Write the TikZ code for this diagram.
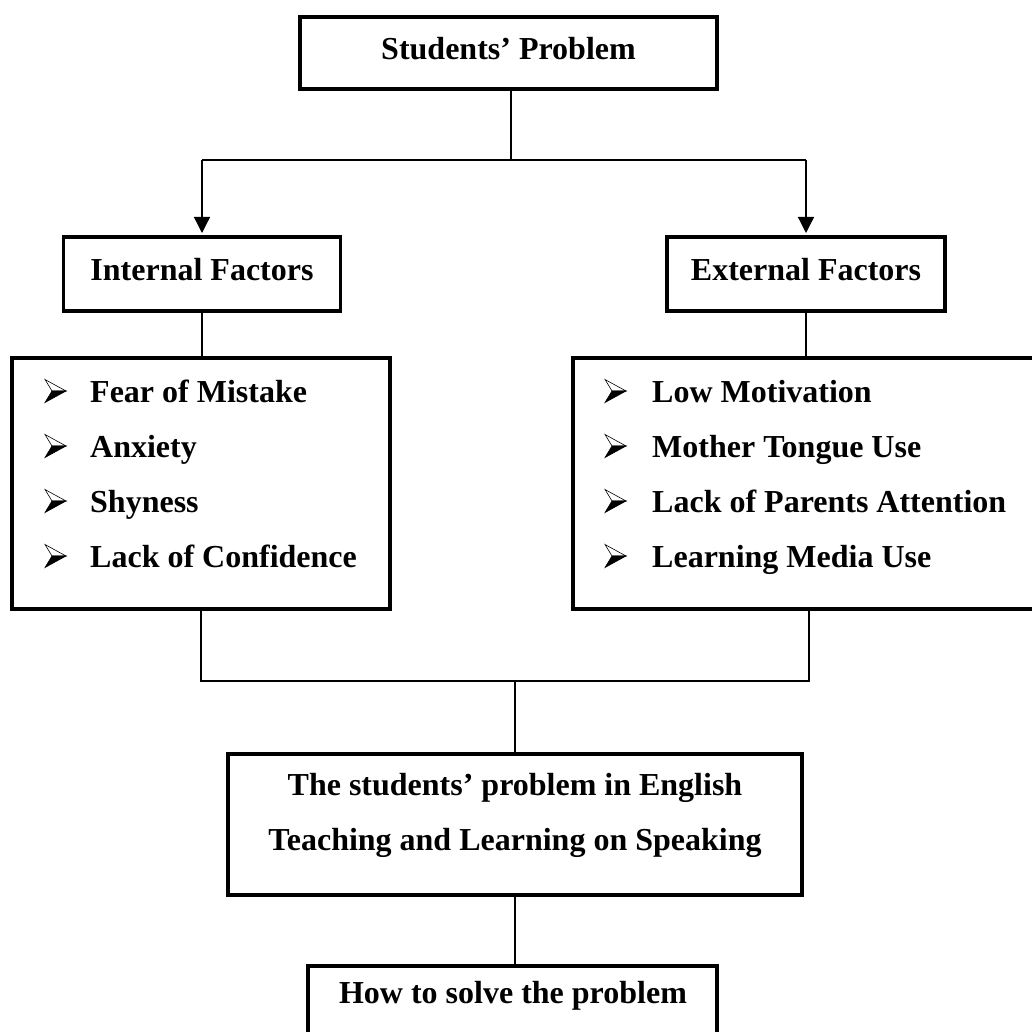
\documentclass[tikz,border=0pt]{standalone}
\usepackage{fontspec}
\setmainfont{Liberation Serif}
\usetikzlibrary{arrows.meta}
\begin{document}
\begin{tikzpicture}[x=1pt,y=-1pt,
  box/.style={draw, line width=3.2pt, inner sep=0pt, outer sep=0pt},
  conn/.style={line width=1.3pt},
  arr/.style={conn, -{Triangle[width=16pt,length=16pt]}, shorten >=4pt},
  txt/.style={anchor=base, font=\fontsize{32}{38}\selectfont\bfseries, inner sep=0pt},
  itm/.style={anchor=base west, font=\fontsize{32}{38}\selectfont\bfseries, inner sep=0pt},
  arrbul/.pic={
    \filldraw[line width=0.6pt, line join=miter, fill=white] (0,-11.5) -- (21,0) -- (7,0) -- cycle;
    \filldraw[line width=0.6pt, line join=miter, fill=black] (7,0) -- (21,0) -- (0,11.5) -- cycle;
  }]
\useasboundingbox (0,0) rectangle (1031,1032);
% boxes
\node[box, minimum width=417pt, minimum height=72pt] (top) at (508.5,53) {};
\node[box, minimum width=277pt, minimum height=74pt] (int) at (202,274) {};
\node[box, minimum width=278pt, minimum height=74pt] (ext) at (806,274) {};
\node[box, minimum width=378pt, minimum height=251pt] (llist) at (201,483.5) {};
\node[box, minimum width=472pt, minimum height=251pt] (rlist) at (809,483.5) {};
\node[box, minimum width=574pt, minimum height=141pt] (big) at (515,824.5) {};
\node[box, minimum width=409pt, minimum height=79pt] (bot) at (512.5,1005.5) {};
% texts
\node[txt] (ttop) at (508.5,60) {Students’ Problem};
\node[txt] (tint) at (202,280) {Internal Factors};
\node[txt] (text) at (806,280) {External Factors};
\node[txt] (tbig1) at (515,795) {The students’ problem in English};
\node[txt] (tbig2) at (515,850) {Teaching and Learning on Speaking};
\node[txt] (tbot) at (513,1003) {How to solve the problem};
% bullets
\foreach \yy in {391,446,501,556} \pic at (45,\yy) {arrbul};
\foreach \yy in {391,446,501,556} \pic at (605,\yy) {arrbul};
% left list
\node[itm] (li1) at (90,402) {Fear of Mistake};
\node[itm] (li2) at (90,457) {Anxiety};
\node[itm] (li3) at (90,512) {Shyness};
\node[itm] (li4) at (90,567) {Lack of Confidence};
% right list
\node[itm] (ri1) at (652,402) {Low Motivation};
\node[itm] (ri2) at (652,457) {Mother Tongue Use};
\node[itm] (ri3) at (652,512) {Lack of Parents Attention};
\node[itm] (ri4) at (652,567) {Learning Media Use};
% connectors
\coordinate (j1) at (511,160);
\coordinate (j2) at (515,681);
\draw[conn] (top.south -| j1) -- (j1);
\draw[conn] (int.north |- j1) -- (ext.north |- j1);
\draw[arr] (int.north |- j1) -- (int.north);
\draw[arr] (ext.north |- j1) -- (ext.north);
\draw[conn] (int.south) -- (int.south |- llist.north);
\draw[conn] (ext.south) -- (ext.south |- llist.north);
\draw[conn] (llist.south) -- (llist.south |- j2) -- (rlist.south |- j2) -- (rlist.south);
\draw[conn] (j2) -- (big.north);
\draw[conn] (big.south) -- (big.south |- bot.north);
\end{tikzpicture}
\end{document}
